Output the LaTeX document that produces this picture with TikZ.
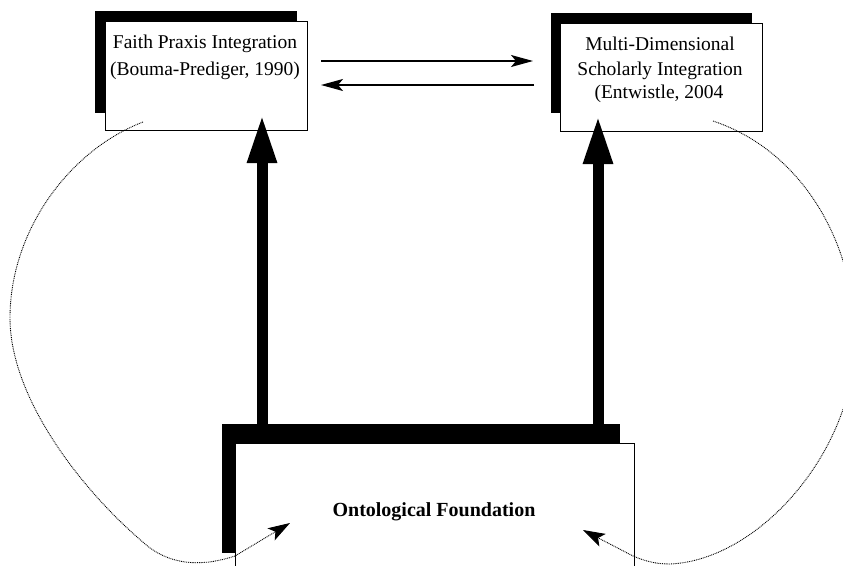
\documentclass[tikz,border=0pt]{standalone}
\usepackage{fontspec}
\setmainfont{Liberation Serif}
\usetikzlibrary{arrows.meta}
\begin{document}
\begin{tikzpicture}[x=1pt,y=-1pt,
  box/.style={draw=black, line width=1.3pt, fill=white, inner sep=0pt, anchor=north west},
  txt/.style={font=\fontsize{19.5}{24}\selectfont, anchor=base, inner sep=0pt},
  bigarrow/.style={line width=11pt, -{Triangle[length=49pt,width=27pt]}},
  thinarrow/.style={line width=1.5pt, -{Stealth[length=22pt,width=12pt,inset=5pt]}},
  dotarrow/.style={line width=0.9pt, dash pattern=on 0.9pt off 0.9pt, -{Stealth[length=22pt,width=14pt,inset=5pt]}}
]
\useasboundingbox (0,0) rectangle (843,565);
\clip (0,0) rectangle (843,565);
\fill[white] (0,0) rectangle (843,565);

% left top box
\fill[black] (95,11) rectangle (297,113);
\node[box, minimum width=202pt, minimum height=109pt] (fpi) at (105,21) {};
\node[txt] (fpi1) at (205,48) {Faith Praxis Integration};
\node[txt] (fpi2) at (205,75) {(Bouma-Prediger, 1990)};

% right top box
\fill[black] (551,13) rectangle (752,113);
\node[box, minimum width=202pt, minimum height=108pt] (msi) at (560,23) {};
\node[txt] (msi1) at (660,50) {Multi-Dimensional};
\node[txt] (msi2) at (660,75) {Scholarly Integration};
\node[txt] (msi3) at (659,98) {(Entwistle, 2004};

% bottom box
\fill[black] (222,424) rectangle (620,553);
\node[box, minimum width=399pt, minimum height=150pt] (onto) at (235,443) {};
\node[txt, font=\fontsize{20}{24}\selectfont\bfseries] (ontot) at (434,516) {Ontological Foundation};

% coordinates
\coordinate (tipL) at (262,114);
\coordinate (tipR) at (598,115);
\coordinate (a1s) at (321,61);
\coordinate (a1e) at (533,61);
\coordinate (a2s) at (534,85);
\coordinate (a2e) at (321,85);
\coordinate (lstart) at (143,122);
\coordinate (ltip) at (290,523);
\coordinate (rstart) at (713,121);
\coordinate (rtip) at (583,530);

% thick arrows
\draw[bigarrow] (onto.north -| tipL) -- (tipL);
\draw[bigarrow] (onto.north -| tipR) -- (tipR);

% thin arrows
\draw[thinarrow] (a1s) -- (a1e);
\draw[thinarrow] (a2s) -- (a2e);

% dotted feedback curves
\draw[dotarrow] (lstart) .. controls (70,150) and (10,230) .. (10,318)
  .. controls (10,400) and (85,495) .. (150,548)
  .. controls (175,566) and (205,566) .. (235,556) -- (ltip);
\draw[dotarrow] (rstart) .. controls (800,150) and (855,240) .. (855,340)
  .. controls (855,450) and (760,560) .. (670,564)
  .. controls (655,564) and (645,561) .. (633,556) -- (rtip);
\end{tikzpicture}
\end{document}
